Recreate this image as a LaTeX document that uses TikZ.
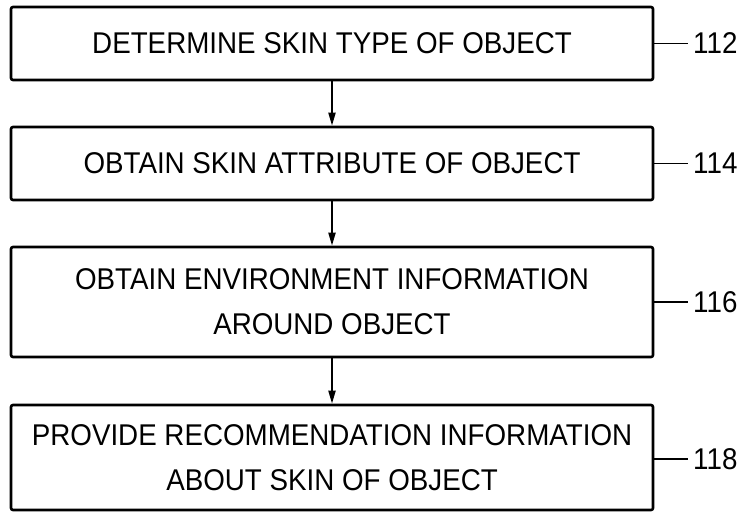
\documentclass[tikz,border=0pt]{standalone}
\usepackage{fontspec}
\setmainfont[FakeStretch=0.925]{Liberation Sans}
\usetikzlibrary{arrows.meta}
\begin{document}
\begin{tikzpicture}[x=1pt,y=1pt,
  stepbox/.style={draw, line width=2.6pt, rounded corners=2pt, minimum width=642pt, align=center, font=\fontsize{30}{45}\selectfont, inner sep=0pt},
  reflabel/.style={anchor=west, inner xsep=5pt, inner ysep=0pt, font=\fontsize{30}{32}\selectfont},
  leader/.style={line width=1.3pt},
  flow/.style={line width=2pt, -{Triangle[length=13pt,width=7pt]}}]
\useasboundingbox (0,0) rectangle (752,-512);
\node[stepbox, minimum height=73pt] (b1) at (332,-43.5) {DETERMINE SKIN TYPE OF OBJECT};
\node[stepbox, minimum height=73pt] (b2) at (332,-163.5) {OBTAIN SKIN ATTRIBUTE OF OBJECT};
\node[stepbox, minimum height=110pt] (b3) at (332,-302) {OBTAIN ENVIRONMENT INFORMATION\\AROUND OBJECT};
\node[stepbox, minimum height=105pt] (b4) at (332,-457.5) {PROVIDE RECOMMENDATION INFORMATION\\ABOUT SKIN OF OBJECT};
\node[reflabel] (l1) at (688,-43.5) {112};
\node[reflabel] (l2) at (688,-163.5) {114};
\node[reflabel] (l3) at (688,-302) {116};
\node[reflabel] (l4) at (688,-459) {118};
\draw[leader] (b1.east) -- (l1.west);
\draw[leader] (b2.east) -- (l2.west);
\draw[leader] (b3.east) -- (l3.west);
\draw[leader] (b4.east |- l4.west) -- (l4.west);
\draw[flow] (b1) -- (b2);
\draw[flow] (b2) -- (b3);
\draw[flow] (b3) -- (b4);
\end{tikzpicture}
\end{document}
